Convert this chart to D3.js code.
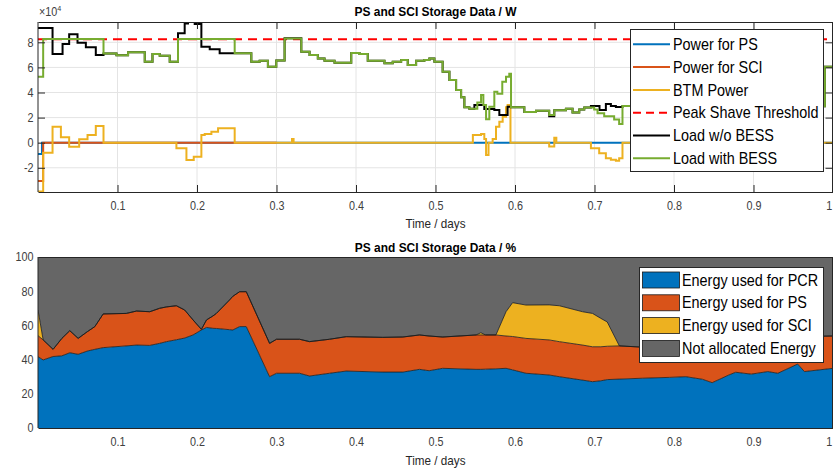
<!DOCTYPE html>
<html><head><meta charset="utf-8">
<script src="https://cdn.jsdelivr.net/npm/d3@7"></script>
<style>
body{margin:0;background:#fff;}
svg{display:block;font-family:"Liberation Sans",Arial,Helvetica,sans-serif;}
</style>
</head><body>
<svg id="chart" width="833" height="470"></svg>
<script>
// ---------------- DATA ----------------
// Top chart: step series, time in days, power in W
const psTime  = [0, 0.005, 1];
const psPower = [-0.9e4, 0, 0];

const sciTime  = [0, 0.0065, 0.30];
const sciPower = [-3.05e4, 0, 0];

const btmTime  = [0, 0.0065, 0.0183, 0.0288, 0.0392, 0.0518, 0.0623, 0.0727, 0.0824,
                  0.1741, 0.1867, 0.1959, 0.2055, 0.2097, 0.2181, 0.2265, 0.2474,
                  0.3195, 0.3215,
                  0.547, 0.5573, 0.5614, 0.5636, 0.5667, 0.5719, 0.5761, 0.5803, 0.5845, 0.5887, 0.5907, 0.5943,
                  0.643, 0.6494, 0.652,
                  0.6955, 0.7059, 0.7143, 0.7206, 0.7269, 0.731, 0.7352, 1];
const btmPower = [-3.9e4, -0.8e4, 1.27e4, 0.43e4, -0.32e4, 0.27e4, 0.61e4, 1.33e4, 0,
                  -0.45e4, -1.38e4, -1.12e4, 0.61e4, 0.69e4, 0.88e4, 1.15e4, 0,
                  0.3e4, 0,
                  0.61e4, 0.69e4, 0.3e4, -0.98e4, 0, 0.3e4, 1.27e4, 1.67e4, 2.07e4, 2.82e4, 3.0e4, 0,
                  -0.3e4, 0.4e4, 0,
                  -0.45e4, -0.85e4, -1.24e4, -1.36e4, -1.44e4, -1.24e4, 0, 0];

const peakShaveThreshold = 8.25e4;

const loadNoBessTime  = [0, 0.0183, 0.0309, 0.0392, 0.0497, 0.0602, 0.0727, 0.0824, 0.0987, 0.1133, 0.1343, 0.144, 0.1531, 0.1657,
                  0.1761, 0.1845, 0.1887, 0.1971, 0.2055, 0.216, 0.2285, 0.2474, 0.2683, 0.2788, 0.2892, 0.2997, 0.3102, 0.3312,
                  0.3416, 0.352, 0.3604, 0.373, 0.394, 0.4044, 0.4148, 0.4358, 0.4462, 0.4568, 0.4651, 0.4756, 0.486, 0.4923, 0.4986,
                  0.509, 0.5175, 0.5259, 0.5322, 0.5363, 0.5426, 0.5489, 0.5614, 0.574, 0.5803, 0.5907, 0.595, 0.6117, 0.6264,
                  0.643, 0.6494, 0.664, 0.6724, 0.6808, 0.6871, 0.6955, 0.7063, 0.7143, 0.7206, 0.7269, 0.7352, 0.7562, 0.8315,
                  0.907, 0.9446, 0.9898, 1];
const loadNoBess = [9.14e4, 7.07e4, 7.86e4, 8.64e4, 7.97e4, 7.6e4, 6.99e4, 7.1e4, 6.97e4, 7.2e4, 6.45e4, 7.07e4, 6.93e4, 6.45e4,
                  8.72e4, 9.5e4, 9.7e4, 9.46e4, 7.65e4, 7.44e4, 7.12e4, 7.12e4, 6.45e4, 6.53e4, 6.05e4, 6.55e4, 8.32e4, 7.25e4,
                  6.99e4, 6.72e4, 6.54e4, 6.38e4, 7.15e4, 7.07e4, 6.54e4, 6.33e4, 6.45e4, 6.6e4, 6.19e4, 6.54e4, 6.6e4, 6.72e4, 6.45e4,
                  5.66e4, 5.0e4, 4.2e4, 3.62e4, 2.82e4, 2.7e4, 3.0e4, 2.68e4, 2.6e4, 2.2e4, 2.87e4, 2.82e4, 2.45e4, 2.55e4,
                  2.1e4, 2.58e4, 2.7e4, 2.4e4, 2.65e4, 2.8e4, 2.92e4, 2.6e4, 3.08e4, 2.92e4, 2.85e4, 2.92e4, 2.85e4, 2.95e4,
                  3.0e4, 2.9e4, 6.05e4, 6.05e4];

const loadBessTime = [0, 0.0065, 0.0824, 0.0987, 0.1133, 0.1343, 0.144, 0.1531, 0.1657, 0.1761, 0.2474, 0.2683, 0.2788, 0.2892,
                  0.2997, 0.3102, 0.3312, 0.3416, 0.352, 0.3604, 0.373, 0.394, 0.4044, 0.4148, 0.4358, 0.4462, 0.4568, 0.4651,
                  0.4756, 0.486, 0.4923, 0.4986, 0.509, 0.5175, 0.5259, 0.5322, 0.5363, 0.5426, 0.5489, 0.5526, 0.5573, 0.5602,
                  0.5636, 0.5677, 0.574, 0.5778, 0.584, 0.5887, 0.5928, 0.595, 0.6117, 0.6264, 0.643, 0.6494, 0.664, 0.6724,
                  0.6808, 0.6871, 0.6996, 0.7038, 0.7122, 0.7247, 0.731, 0.7352, 0.7562, 0.8315, 0.907, 0.9446, 0.9898, 1];
const loadBess = [5.26e4, 8.26e4, 7.1e4, 6.97e4, 7.2e4, 6.45e4, 7.07e4, 6.93e4, 6.45e4, 8.26e4, 7.12e4, 6.45e4, 6.53e4, 6.05e4,
                  6.55e4, 8.3e4, 7.25e4, 6.99e4, 6.72e4, 6.54e4, 6.38e4, 7.15e4, 7.07e4, 6.54e4, 6.33e4, 6.45e4, 6.6e4, 6.19e4,
                  6.54e4, 6.6e4, 6.72e4, 6.45e4, 5.66e4, 5.0e4, 4.2e4, 3.62e4, 2.82e4, 2.7e4, 2.7e4, 3.2e4, 3.8e4, 3.0e4,
                  1.86e4, 2.87e4, 4.06e4, 3.9e4, 4.86e4, 5.26e4, 5.5e4, 2.82e4, 2.45e4, 2.55e4, 2.2e4, 2.58e4, 2.7e4, 2.4e4,
                  2.65e4, 2.8e4, 2.65e4, 2.34e4, 2.1e4, 1.85e4, 1.5e4, 2.92e4, 2.85e4, 2.95e4, 3.0e4, 2.9e4, 6.05e4, 6.05e4];

const topLegend = ["Power for PS", "Power for SCI", "BTM Power", "Peak Shave Threshold", "Load w/o BESS", "Load with BESS"];
const timeTicks = [0.1, 0.2, 0.3, 0.4, 0.5, 0.6, 0.7, 0.8, 0.9, 1];
const powerTicks = [-2e4, 0, 2e4, 4e4, 6e4, 8e4];
const pctTicks = [0, 20, 40, 60, 80, 100];

// Bottom chart: energy share in %
const pctTime = [0, 0.0065, 0.019, 0.030, 0.040, 0.0505, 0.062, 0.0715, 0.082, 0.111, 0.124, 0.1406, 0.153, 0.1616,
                 0.174, 0.1845, 0.195, 0.2055, 0.212, 0.22, 0.2244, 0.241, 0.245, 0.2536, 0.262, 0.2913, 0.30, 0.329,
                 0.3416, 0.3667, 0.3877, 0.4337, 0.4588, 0.4798, 0.492, 0.509, 0.551, 0.557, 0.563, 0.576, 0.5887,
                 0.597, 0.6138, 0.643, 0.6557, 0.685, 0.6975, 0.708, 0.716, 0.7313, 0.760, 0.794, 0.815, 0.8357, 0.848,
                 0.869, 0.8776, 0.8972, 0.918, 0.9306, 0.9556, 0.964, 1];
const pcrPct = [41.7, 39.8, 41.8, 42.2, 44.0, 43.1, 45.0, 46.0, 47.0, 48.0, 48.5, 48.3, 49.5, 50.5,
                51.6, 52.6, 54.4, 57.3, 58.8, 58.3, 58.2, 57.5, 57.3, 59.3, 59.3, 30.0, 32.0, 32.0,
                30.4, 32.0, 33.3, 32.7, 32.7, 34.3, 33.5, 34.9, 34.3, 34.3, 34.4, 34.6, 34.9,
                34.0, 32.0, 31.0, 30.0, 28.0, 27.1, 27.6, 28.3, 28.6, 29.1, 29.6, 30.0, 28.5, 26.5,
                31.0, 32.6, 31.5, 33.0, 32.0, 37.4, 33.0, 34.9];
const psPct  = [12.3, 11.7, 4.2, 10.2, 12.9, 9.3, 11.3, 13.3, 19.7, 19.0, 19.9, 19.7, 20.5, 20.3,
                19.9, 16.4, 8.8, 0.4, 4.4, 7.2, 8.8, 17.4, 19.7, 20.4, 20.4, 19.5, 19.9, 19.9,
                20.1, 19.9, 20.1, 20.3, 20.5, 20.1, 20.3, 18.3, 20.1, 20.1, 20.0, 19.8, 18.9,
                19.5, 20.4, 20.5, 20.5, 20.5, 20.4, 19.9, 19.5, 19.4, 18.2, 18.4, 19.0, 21.5, 24.0,
                20.0, 18.9, 20.5, 19.5, 21.0, 16.1, 20.5, 18.9];
const sciPct = [15.0, 0, 0, 0, 0, 0, 0, 0, 0, 0, 0, 0, 0, 0,
                0, 0, 0, 0, 0, 0, 0, 0, 0, 0, 0, 0, 0, 0,
                0, 0, 0, 0, 0, 0, 0, 0, 0, 1.3, 0, 0, 14.2,
                19.8, 19.5, 20.5, 21.0, 19.5, 19.5, 16.6, 14.2, 0, 0, 0, 0, 0, 0,
                0, 0, 0, 0, 0, 0, 0, 0];
const bottomLegend = ["Energy used for PCR", "Energy used for PS", "Energy used for SCI", "Not allocated Energy"];

// ---------------- DRAW ----------------
const svg = d3.select("#chart");
const L = 38, R = 833;
const axisCol = "#262626", tickCol = "#404040", gridCol = "#e4e4e4";
const x = d3.scaleLinear().domain([0, 1]).range([L, R]);
const fmtX = d => d === 1 ? "1" : d3.format(".1f")(d);

function label(g, px, py, s, size, sx, opts = {}) {
  return g.append("text")
    .attr("transform", `translate(${px},${py}) scale(${sx},1)`)
    .attr("text-anchor", opts.anchor || "middle")
    .attr("dy", "0.35em")
    .attr("font-size", size)
    .attr("font-weight", opts.bold ? "bold" : "normal")
    .attr("fill", opts.fill || "#000")
    .text(s);
}

function styleAxis(g, showText) {
  g.select(".domain").attr("stroke", axisCol).attr("stroke-width", 1);
  g.selectAll(".tick line").attr("stroke", axisCol).attr("stroke-width", 1);
  g.selectAll(".tick text").attr("fill", tickCol).attr("font-size", 12)
    .attr("font-family", '"Liberation Sans",Arial,sans-serif')
    .attr("transform", "scale(0.9,1)");
  if (!showText) g.selectAll(".tick text").remove();
}

function drawAxes(yScale, yTicks, yFmt, top, bottom, tickLen) {
  const xb = svg.append("g").attr("transform", `translate(0,${bottom})`)
    .call(d3.axisBottom(x).tickValues(timeTicks).tickFormat(fmtX).tickSizeInner(-tickLen).tickSizeOuter(0).tickPadding(9));
  styleAxis(xb, true);
  // keep the last label ("1") inside the picture
  xb.selectAll(".tick text").filter(d => d === 1).attr("text-anchor", "end").attr("x", -1.5);
  const xt = svg.append("g").attr("transform", `translate(0,${top})`)
    .call(d3.axisTop(x).tickValues(timeTicks).tickSizeInner(-tickLen).tickSizeOuter(0));
  styleAxis(xt, false);
  const yl = svg.append("g").attr("transform", `translate(${L},0)`)
    .call(d3.axisLeft(yScale).tickValues(yTicks).tickFormat(yFmt).tickSizeInner(-tickLen).tickSizeOuter(0).tickPadding(5));
  styleAxis(yl, true);
  yl.select(".domain").attr("d", `M0,${top}V${bottom}`);
  const yr = svg.append("g").attr("transform", `translate(${R - 0.5},0)`)
    .call(d3.axisRight(yScale).tickValues(yTicks).tickSizeInner(-tickLen).tickSizeOuter(0));
  styleAxis(yr, false);
  yr.select(".domain").attr("d", `M0,${top}V${bottom}`);
}

// ---------- Top chart ----------
const T1 = 22, B1 = 192;
const y1 = d3.scaleLinear().domain([-3.93e4, 9.62e4]).range([B1, T1]);
svg.append("defs").append("clipPath").attr("id", "clip1")
  .append("rect").attr("x", L).attr("y", T1).attr("width", R - L).attr("height", B1 - T1);

const gridG = svg.append("g");
gridG.selectAll("line.gx").data(timeTicks.filter(d => d < 1)).join("line")
  .attr("x1", d => x(d)).attr("x2", d => x(d)).attr("y1", T1).attr("y2", B1)
  .attr("stroke", gridCol);
gridG.selectAll("line.gy").data(powerTicks).join("line")
  .attr("x1", L).attr("x2", R).attr("y1", d => y1(d)).attr("y2", d => y1(d))
  .attr("stroke", gridCol);

const stepLine = d3.line().x(d => x(d[0])).y(d => y1(d[1])).curve(d3.curveStepAfter);
const zip = (ts, vs) => ts.map((t, i) => [t, vs[i]]);
const topSeries = [
  {data: zip(psTime, psPower), color: "#0072BD", dash: null},
  {data: zip(sciTime, sciPower), color: "#D95319", dash: null},
  {data: zip(btmTime, btmPower), color: "#EDB120", dash: null},
  {data: [[0, peakShaveThreshold], [1, peakShaveThreshold]], color: "#FF0000", dash: "9,6"},
  {data: zip(loadNoBessTime, loadNoBess), color: "#000000", dash: null},
  {data: zip(loadBessTime, loadBess), color: "#77AC30", dash: null}
];
const linesG = svg.append("g").attr("clip-path", "url(#clip1)");
topSeries.forEach(s => {
  linesG.append("path").attr("d", stepLine(s.data)).attr("fill", "none")
    .attr("stroke", s.color).attr("stroke-width", 2)
    .attr("stroke-dasharray", s.dash);
});

drawAxes(y1, powerTicks, d => d / 1e4, T1, B1, 7);

// exponent label
const ex = svg.append("text").attr("transform", "translate(39,16) scale(0.9,1)")
  .attr("font-size", 12).attr("fill", tickCol);
ex.append("tspan").text("\u00d710");
ex.append("tspan").attr("font-size", 8).attr("dy", -5).text("4");

label(svg, (L + R) / 2, 11.5, "PS and SCI Storage Data / W", 13, 0.92, {bold: true});
label(svg, (L + R) / 2, 223.5, "Time / days", 13, 0.9, {fill: "#262626"});

// top legend
const lg1 = svg.append("g");
lg1.append("rect").attr("x", 630.5).attr("y", 29.5).attr("width", 193).attr("height", 142)
  .attr("fill", "#fff").attr("stroke", axisCol).attr("stroke-width", 1);
topLegend.forEach((name, i) => {
  const cy = 44.3 + i * 22.8;
  const s = topSeries[i];
  lg1.append("line").attr("x1", 633).attr("x2", 670).attr("y1", cy).attr("y2", cy)
    .attr("stroke", s.color).attr("stroke-width", 2).attr("stroke-dasharray", s.dash ? "8,5" : null);
  label(lg1, 673, cy, name, 16, 0.9, {anchor: "start"});
});

// ---------- Bottom chart ----------
const T2 = 257, B2 = 428;
const y2 = d3.scaleLinear().domain([0, 100]).range([B2, T2]);
const rows = pctTime.map((t, i) => ({
  t, pcr: pcrPct[i], ps: psPct[i], sci: sciPct[i],
  na: 100 - pcrPct[i] - psPct[i] - sciPct[i]
}));
const keys = ["pcr", "ps", "sci", "na"];
const colors = {pcr: "#0072BD", ps: "#D95319", sci: "#EDB120", na: "#666666"};
const stacked = d3.stack().keys(keys)(rows);
const area = d3.area().x(d => x(d.data.t)).y0(d => y2(d[0])).y1(d => y2(d[1]));
const edge = d3.line().x(d => x(d.data.t)).y(d => y2(d[1]));

svg.append("defs").append("clipPath").attr("id", "clip2")
  .append("rect").attr("x", L).attr("y", T2).attr("width", R - L).attr("height", B2 - T2);
const areaG = svg.append("g").attr("clip-path", "url(#clip2)");
stacked.forEach(layer => {
  areaG.append("path").attr("d", area(layer)).attr("fill", colors[layer.key]).attr("stroke", "none");
});
stacked.slice(0, 3).forEach(layer => {
  areaG.append("path").attr("d", edge(layer)).attr("fill", "none")
    .attr("stroke", "#1a1a1a").attr("stroke-width", 0.8);
});

drawAxes(y2, pctTicks, d => d, T2, B2, 0);

label(svg, (L + R) / 2, 247, "PS and SCI Storage Data / %", 13, 0.92, {bold: true});
label(svg, (L + R) / 2, 460, "Time / days", 13, 0.9, {fill: "#262626"});

// bottom legend
const lg2 = svg.append("g");
lg2.append("rect").attr("x", 639.5).attr("y", 267.5).attr("width", 184).attr("height", 95)
  .attr("fill", "#fff").attr("stroke", axisCol).attr("stroke-width", 1);
bottomLegend.forEach((name, i) => {
  const cy = 280 + i * 22.8;
  lg2.append("rect").attr("x", 642.5).attr("y", cy - 8).attr("width", 37).attr("height", 16)
    .attr("fill", colors[keys[i]]).attr("stroke", "#1a1a1a").attr("stroke-width", 0.8);
  label(lg2, 682, cy, name, 16, 0.9, {anchor: "start"});
});
</script>
</body></html>
